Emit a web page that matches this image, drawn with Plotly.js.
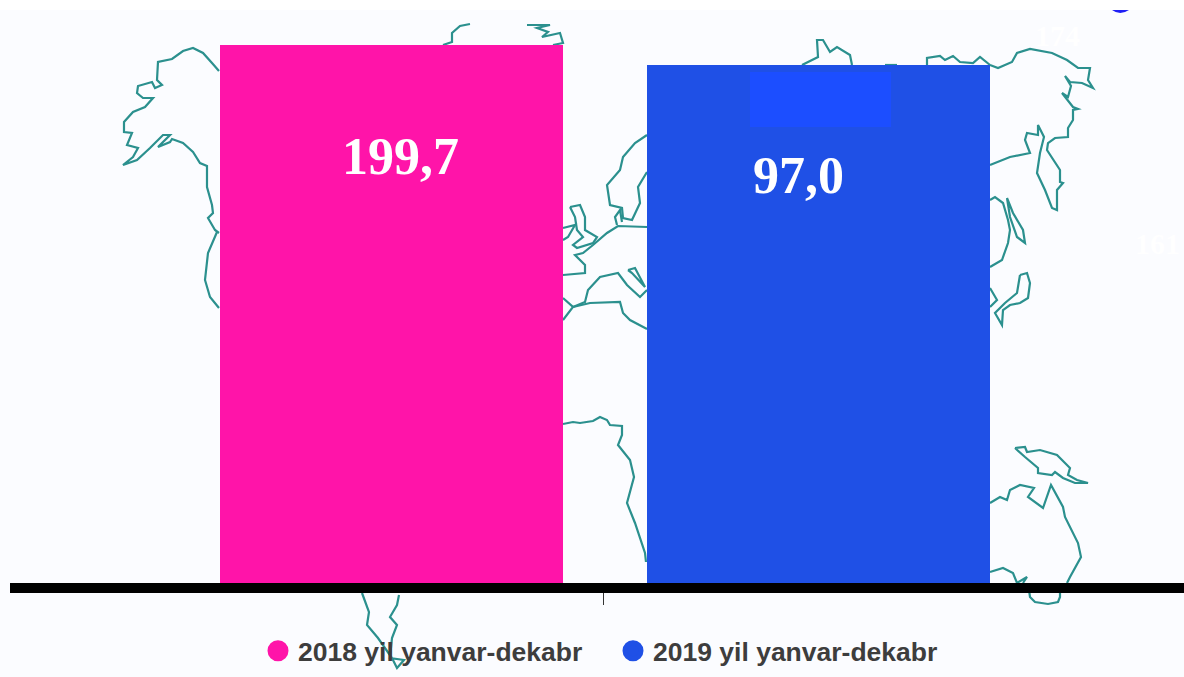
<!DOCTYPE html>
<html>
<head>
<meta charset="utf-8">
<script src="https://cdn.plot.ly/plotly-3.0.1.min.js"></script>
<style>html,body{margin:0;padding:0;background:#fff}</style>
</head>
<body>
<div id="chart" style="width:1184px;height:677px"></div>
<script>
// ---- chart data ----
const seriesNames = ["2018 yil yanvar-dekabr", "2019 yil yanvar-dekabr"];
const seriesValues = [199.7, 97.0];
const seriesColors = ["#ff14a9", "#1f50e6"];
const faintLabels = ["174", "161"];

// ---- decorative world-map backdrop, traced in page pixels ----
const coastlines = [
 [[219,71],[212,63],[203,53],[193,48],[183,51],[172,59],[158,62],[157,80],[162,85],[155,88],[152,82],[138,86],[137,93],[143,98],[153,98],[145,107],[133,112],[124,122],[124,132],[132,133],[127,145],[138,148],[133,157],[123,165],[137,160],[150,148],[163,135],[170,135],[158,147],[170,142],[172,139],[183,143],[193,152],[200,163],[207,166],[207,187],[212,205],[213,213],[208,218],[215,230],[219,233]],
 [[217,232],[208,253],[205,280],[210,297],[219,308]],
 [[443,45],[452,42],[452,33],[460,26],[470,24]],
 [[527,25],[550,25],[537,28],[548,32],[542,37],[560,33],[563,43],[553,45]],
 [[647,135],[635,143],[623,157],[620,170],[607,185],[610,205],[622,208],[623,218],[632,220],[640,203],[638,187],[647,172]],
 [[617,225],[615,217],[620,210],[622,222]],
 [[647,227],[618,226],[607,233],[593,245],[583,253],[575,255],[585,265],[585,273],[563,275]],
 [[570,207],[580,205],[585,217],[585,230],[597,237],[593,243],[577,248],[573,245],[583,237],[577,230],[575,217],[570,207]],
 [[563,228],[575,225],[568,237],[563,240]],
 [[563,298],[573,307],[563,320]],
 [[573,307],[590,303],[620,302],[623,313],[630,320],[647,329]],
 [[573,307],[585,302],[588,290],[600,277],[618,273],[627,285],[640,297],[647,290]],
 [[628,270],[635,268],[645,287],[632,273],[628,270]],
 [[563,424],[573,422],[580,423],[593,421],[600,417],[607,420],[610,425],[622,426],[622,435],[618,445],[630,460],[634,477],[627,503],[635,523],[645,553],[646,562]],
 [[802,65],[818,57],[817,40],[823,40],[830,52],[837,47],[850,55],[852,65]],
 [[885,65],[897,65]],
 [[927,65],[927,58],[940,56],[945,60],[953,56],[960,62],[973,63],[980,57],[990,65]],
 [[990,65],[998,68],[1012,62],[1017,53],[1030,49],[1052,53],[1067,60],[1078,68],[1090,68],[1088,80],[1093,88],[1082,83],[1070,82],[1065,76],[1071,86],[1068,97],[1062,93],[1073,107],[1078,109],[1073,110],[1073,120],[1068,128],[1068,137],[1055,138],[1048,143],[1047,150],[1060,170],[1060,182],[1063,183],[1057,190],[1057,210],[1052,208],[1045,190],[1037,173],[1040,153],[1044,137],[1038,125],[1038,135],[1027,133],[1025,140],[1030,153],[1010,157],[990,165]],
 [[990,200],[995,197],[1003,203],[1008,220],[1010,230],[1008,243],[1002,260],[990,267]],
 [[1007,198],[1013,213],[1023,230],[1025,243],[1017,237],[1010,217],[1007,198]],
 [[990,288],[997,300],[990,307]],
 [[1020,275],[1027,273],[1030,283],[1028,298],[1020,303],[1010,305],[1003,310],[1002,325],[995,313],[1005,303],[1017,293],[1020,275]],
 [[1015,448],[1025,447],[1027,452],[1040,450],[1057,455],[1070,468],[1068,475],[1077,480],[1088,483],[1075,483],[1063,478],[1055,472],[1052,475],[1038,473],[1038,468],[1025,457],[1015,448]],
 [[990,503],[1000,497],[1007,500],[1010,490],[1020,485],[1034,488],[1028,497],[1043,508],[1051,485],[1063,507],[1065,517],[1078,543],[1081,557],[1070,577],[1067,583]],
 [[1060,590],[1060,597],[1058,602],[1048,604],[1035,602],[1030,597],[1029,590]],
 [[990,572],[1003,568],[1013,573],[1017,583],[1027,577],[1023,583]],
 [[362,593],[369,612],[367,625],[378,638],[392,658],[397,668],[404,660],[390,658],[392,638],[397,625],[390,617],[397,605],[399,595]]
];

// ---- page-pixel helpers for the backdrop ----
const px = x => (x - 10) / 1174;
const py = y => (583 - y) / 583;
const toPath = pts => pts.map((p, i) => (i ? "L" : "M") + px(p[0]).toFixed(5) + " " + py(p[1]).toFixed(5)).join(" ");
const paperShape = o => Object.assign({xref: "paper", yref: "paper"}, o);
const fmt = v => v.toFixed(1).replace(".", ",");

const shapes = [
  paperShape({type: "rect", layer: "below", x0: px(0), x1: px(1184), y0: py(10), y1: py(677), fillcolor: "#fbfcff", line: {width: 0}}),
  paperShape({type: "path", layer: "above", path: `M${px(1112)} ${py(10)} Q${px(1120)} ${py(16)} ${px(1129)} ${py(10)} Z`, fillcolor: "#1f1ff5", line: {width: 0}})
];
coastlines.forEach(c => shapes.push(paperShape({type: "path", layer: "below", path: toPath(c), line: {color: "#2b908e", width: 2.2}})));
shapes.push(paperShape({type: "rect", layer: "above", x0: px(750), x1: px(891), y0: py(127), y1: py(72), fillcolor: "#1c4eff", line: {width: 0}}));

const barPos = [-0.2135, 0.2135];
const labelPos = [-0.205, 0.1935];
const labelY = [156, 175];
const faintX = [1057, 1157];
const faintY = [36, 243];

const legendMarker = i => ({color: seriesColors[i], size: 16, line: {color: seriesColors[i], width: 5}});
const traces = [
  {type: "bar", x: [barPos[0]], y: [seriesValues[0]], width: 0.343, marker: {color: seriesColors[0]}, showlegend: false, hoverinfo: "skip", yaxis: "y"},
  {type: "bar", x: [barPos[1]], y: [seriesValues[1]], width: 0.343, marker: {color: seriesColors[1]}, showlegend: false, hoverinfo: "skip", yaxis: "y2"},
  {type: "scatter", mode: "markers", name: seriesNames[0], x: [null], y: [null], marker: legendMarker(0)},
  {type: "scatter", mode: "markers", name: seriesNames[1], x: [null], y: [null], marker: legendMarker(1)}
];

const layout = {
  width: 1184, height: 677,
  margin: {l: 10, r: 0, t: 0, b: 94, pad: 0},
  paper_bgcolor: "#ffffff", plot_bgcolor: "rgba(0,0,0,0)",
  barmode: "overlay",
  showlegend: true,
  legend: {orientation: "h", xref: "container", yref: "container", x: 258 / 1184, xanchor: "left", y: 1 - 627 / 677, yanchor: "top", entrywidth: 310, entrywidthmode: "pixels",
           bgcolor: "rgba(0,0,0,0)", font: {family: "Liberation Sans, Arial, sans-serif", size: 26.5, weight: 700, color: "#3d3d3d"}},
  xaxis: {type: "linear", range: [-0.595, 0.579], showgrid: false, zeroline: false, showline: true, linecolor: "#000", linewidth: 10,
          ticks: "outside", ticklen: 12, tickwidth: 1, tickcolor: "#333", tickvals: [-0.002], ticktext: [""]},
  yaxis: {range: [0, 199.7 * 583 / 538], visible: false, fixedrange: true},
  yaxis2: {range: [0, 97.0 * 583 / 518], visible: false, overlaying: "y", fixedrange: true},
  shapes: shapes,
  annotations: seriesValues.map((v, i) => ({
    x: labelPos[i], xref: "x", y: py(labelY[i]), yref: "paper", xanchor: "center", yanchor: "middle", text: fmt(v), showarrow: false,
    font: {family: "Liberation Serif, Times New Roman, serif", size: 52, weight: 700, color: "#ffffff"}
  })).concat(faintLabels.map((t, i) => ({
    x: px(faintX[i]), xref: "paper", y: py(faintY[i]), yref: "paper", xanchor: "center", yanchor: "middle", text: t, showarrow: false,
    font: {family: "Liberation Serif, Times New Roman, serif", size: 30, weight: 700, color: "#ffffff"}
  })))
};
Plotly.newPlot("chart", traces, layout, {displayModeBar: false, staticPlot: true});
</script>
</body>
</html>
